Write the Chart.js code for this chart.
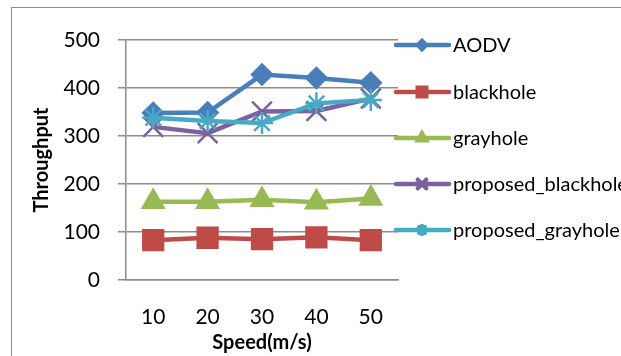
<!DOCTYPE html>
<html>
<head>
<meta charset="utf-8">
<script src="https://cdn.jsdelivr.net/npm/chart.js@4.4.1/dist/chart.umd.min.js"></script>
<style>
  html, body { margin: 0; padding: 0; background: #fff; overflow: hidden; }
  #wrap { position: relative; width: 621px; height: 356px; overflow: hidden; }
  #frame { position: absolute; left: 11px; top: 7px; width: 700px; height: 400px; border: 1.5px solid #8c8c8c; }
  #chart { position: absolute; left: 0; top: 0; }
</style>
</head>
<body>
<div id="wrap">
  <div id="frame"></div>
  <canvas id="chart" width="621" height="356"></canvas>
</div>
<script>
// --- data ---
const speeds = ['10', '20', '30', '40', '50'];
const aodv = [348, 349, 428, 421, 411];
const blackhole = [83, 88, 85, 89, 83];
const grayhole = [163, 163, 167, 162, 170];
const proposedBlackhole = [319, 306, 351, 352, 378];
const proposedGrayhole = [338, 331, 327, 368, 375];
const yTicks = [0, 100, 200, 300, 400, 500];

const FONT = 'Lato, "Open Sans", sans-serif';
const GRID = '#8c8c8c';

const series = [
    { label: 'AODV', data: aodv, color: '#4a7ebb', style: 'rectRot', r: 10, lr: 4 },
    { label: 'blackhole', data: blackhole, color: '#be4b48', style: 'rect', r: 14, lr: 6 },
    { label: 'grayhole', data: grayhole, color: '#98b954', style: 'triangle', r: 12, lr: 4.5 },
    { label: 'proposed_blackhole', data: proposedBlackhole, color: '#7d60a0', style: 'crossRot', r: 14, lr: 6 },
    { label: 'proposed_grayhole', data: proposedGrayhole, color: '#46aac5', style: 'star', r: 11, lr: 4 }
];

// Legend drawn by hand so it can sit at the right edge and run off the page
const sideLegend = {
    id: 'sideLegend',
    afterDraw(chart) {
        const ctx = chart.ctx;
        const rows = [45, 92, 138, 184, 230];
        ctx.save();
        series.forEach((s, i) => {
            const y = rows[i];
            ctx.strokeStyle = s.color;
            ctx.fillStyle = s.color;
            ctx.lineWidth = 4.5;
            ctx.lineCap = 'round';
            ctx.beginPath();
            ctx.moveTo(396, y);
            ctx.lineTo(449, y);
            ctx.stroke();
            Chart.helpers.drawPoint(ctx, {
                pointStyle: s.style, radius: s.lr, borderWidth: 1.5, rotation: 0
            }, 422, y);
            ctx.fillStyle = '#000';
            ctx.font = '20px ' + FONT;
            ctx.textBaseline = 'middle';
            ctx.textAlign = 'left';
            ctx.fillText(s.label, 453, y + 1);
        });
        ctx.restore();
    }
};

const ctx = document.getElementById('chart').getContext('2d');
new Chart(ctx, {
    type: 'line',
    data: {
        labels: speeds,
        datasets: series.map((s, i) => ({
            label: s.label,
            data: s.data,
            borderColor: s.color,
            backgroundColor: s.color,
            borderWidth: 4.5,
            pointStyle: s.style,
            pointRadius: s.r,
            pointBorderWidth: 2.5,
            pointBackgroundColor: s.color,
            pointBorderColor: s.color,
            tension: 0,
            order: series.length - i
        }))
    },
    options: {
        responsive: false,
        animation: false,
        devicePixelRatio: 1,
        layout: { padding: { top: 40, right: 223, left: 0, bottom: 0 } },
        plugins: { legend: { display: false }, tooltip: { enabled: false } },
        scales: {
            x: {
                offset: true,
                grid: { display: false, drawTicks: false },
                border: { display: true, color: GRID, width: 1.5 },
                ticks: { color: '#000', font: { family: FONT, size: 21 }, padding: 25 },
                title: {
                    display: true, text: 'Speed(m/s)', color: '#000',
                    font: { family: FONT, size: 20, weight: 'bold' },
                    padding: { top: 0, bottom: 1 }
                },
                afterFit(scale) { scale.height = 76; }
            },
            y: {
                min: 0,
                max: 500,
                afterBuildTicks(scale) { scale.ticks = yTicks.map(v => ({ value: v })); },
                grid: { color: GRID, lineWidth: 1.5, tickLength: 8, drawTicks: true },
                border: { display: true, color: GRID, width: 1.5 },
                ticks: { color: '#000', font: { family: FONT, size: 21 }, padding: 18 },
                title: {
                    display: true, text: 'Throughput', color: '#000',
                    font: { family: FONT, size: 20, weight: 'bold' },
                    padding: { top: 30, bottom: 0 }
                },
                afterFit(scale) { scale.width = 126; }
            }
        }
    },
    plugins: [sideLegend]
});
</script>
</body>
</html>
